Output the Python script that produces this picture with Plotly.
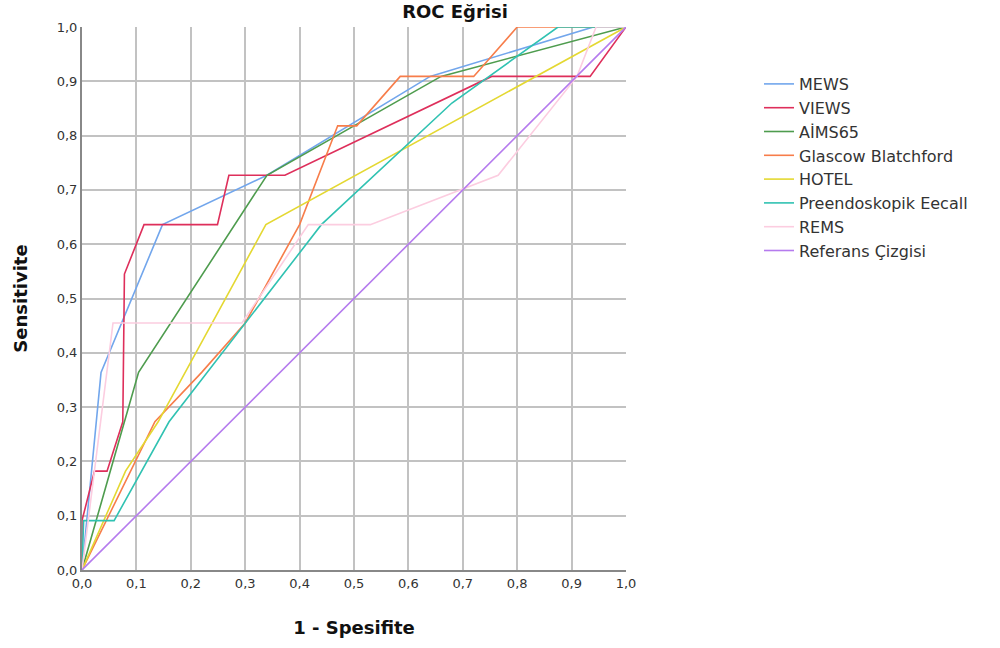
import plotly.graph_objects as go

# Data (1 - specificity, sensitivity)
mews_x = [0.0, 0.035, 0.148, 0.34, 0.64, 0.94, 1.0]
mews_y = [0.0, 0.364, 0.636, 0.727, 0.909, 1.0, 1.0]

views_x = [0.0, 0.0, 0.023, 0.046, 0.075, 0.078, 0.114, 0.249, 0.27, 0.373, 0.753, 0.934, 1.0]
views_y = [0.0, 0.091, 0.182, 0.182, 0.273, 0.545, 0.636, 0.636, 0.727, 0.727, 0.909, 0.909, 1.0]

aims_x = [0.0, 0.079, 0.104, 0.34, 0.66, 1.0]
aims_y = [0.0, 0.273, 0.364, 0.727, 0.909, 1.0]

gbs_x = [0.0, 0.134, 0.22, 0.3, 0.4, 0.47, 0.505, 0.585, 0.72, 0.8, 1.0]
gbs_y = [0.0, 0.273, 0.364, 0.455, 0.636, 0.818, 0.818, 0.909, 0.909, 1.0, 1.0]

hotel_x = [0.0, 0.08, 0.14, 0.338, 1.0]
hotel_y = [0.0, 0.182, 0.273, 0.636, 1.0]

pre_x = [0.0, 0.003, 0.059, 0.16, 0.44, 0.68, 0.875, 1.0]
pre_y = [0.0, 0.091, 0.091, 0.273, 0.636, 0.86, 1.0, 1.0]

rems_x = [0.0, 0.057, 0.294, 0.416, 0.53, 0.765, 0.91, 0.945, 1.0]
rems_y = [0.0, 0.455, 0.455, 0.636, 0.636, 0.727, 0.909, 1.0, 1.0]

ref_x = [0.0, 1.0]
ref_y = [0.0, 1.0]

names = ["MEWS", "VIEWS", "AİMS65", "Glascow Blatchford", "HOTEL",
         "Preendoskopik Eecall", "REMS", "Referans Çizgisi"]
colors = ["#72A6EC", "#DE2F5B", "#4E9C4E", "#F77D4A", "#E4D832",
          "#30C2B2", "#FCCDE0", "#B57BEE"]
series = [(mews_x, mews_y), (views_x, views_y), (aims_x, aims_y), (gbs_x, gbs_y),
          (hotel_x, hotel_y), (pre_x, pre_y), (rems_x, rems_y), (ref_x, ref_y)]

ticks = [i / 10 for i in range(11)]

fig = go.Figure()
for name, col, (xs, ys) in zip(names, colors, series):
    fig.add_trace(go.Scatter(x=xs, y=ys, mode="lines", name=name,
                             line=dict(color=col, width=1.6)))

FONT = "DejaVu Sans, Arial, sans-serif"
W, H = 1000, 648
L, R, T, B = 82, 374, 27, 78
PW, PH = W - L - R, H - T - B
fig.update_layout(
    width=W, height=H,
    margin=dict(l=L, r=R, t=T, b=B, autoexpand=False),
    paper_bgcolor="white", plot_bgcolor="white",
    separators=",.",
    font=dict(family=FONT, size=13, color="#333333"),
    title=dict(text="<b>ROC Eğrisi</b>", x=455 / W, xanchor="center",
               y=1 - 12 / H, yanchor="middle",
               font=dict(size=18, color="#111111", family=FONT)),
    legend=dict(x=(759 - L) / PW, y=(H - B - 67) / PH, xanchor="left", yanchor="top",
                font=dict(size=16, color="#333333", family=FONT),
                bgcolor="rgba(0,0,0,0)", tracegroupgap=0),
    xaxis=dict(range=[0, 1], tickvals=ticks, tickformat=".1f",
               showgrid=True, gridcolor="#C2C2C2", gridwidth=1.6,
               showline=True, linecolor="#888888", linewidth=2,
               zeroline=False, ticks="", ticklen=0,
               title=dict(text="<b>1 - Spesifite</b>", standoff=32,
                          font=dict(size=18, color="#111111", family=FONT))),
    yaxis=dict(range=[0, 1], tickvals=ticks, tickformat=".1f",
               showgrid=True, gridcolor="#C2C2C2", gridwidth=1.6,
               showline=True, linecolor="#888888", linewidth=2,
               zeroline=False, ticks="", ticklen=0,
               title=dict(text="<b>Sensitivite</b>", standoff=24,
                          font=dict(size=18, color="#111111", family=FONT))),
)

fig.write_html("out.html", config={"displayModeBar": False},
               post_script="document.body.style.margin='0';document.body.style.padding='0';")
